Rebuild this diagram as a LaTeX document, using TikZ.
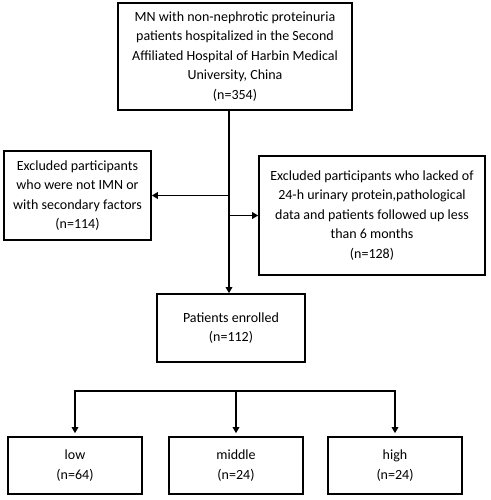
\documentclass[tikz,border=0pt]{standalone}
\usepackage{fontspec}
\setmainfont{Carlito}
\usetikzlibrary{arrows.meta}
\begin{document}
\begin{tikzpicture}[x=1pt,y=-1pt,
  box/.style={draw,line width=1.6pt,align=center,inner sep=0pt,font=\fontsize{14}{19.5}\selectfont},
  conn/.style={line width=1.6pt},
  arr/.style={conn,-{Triangle[length=6pt,width=6.5pt]}}]
\useasboundingbox (0,0) rectangle (490,500);
\node[box,minimum width=234pt,minimum height=107pt] (top) at (235,56.5)
  {MN with non-nephrotic proteinuria\\patients hospitalized in the Second\\Affiliated Hospital of Harbin Medical\\University, China\\(n=354)};
\node[box,minimum width=147pt,minimum height=89pt] (left) at (77.5,195.5)
  {Excluded participants\\who were not IMN or\\with secondary factors\\(n=114)};
\node[box,minimum width=226pt,minimum height=119pt] (right) at (372,215.5)
  {Excluded participants who lacked of\\24-h urinary protein,pathological\\data and patients followed up less\\than 6 months\\(n=128)};
\node[box,minimum width=148pt,minimum height=68pt] (mid) at (231,328)
  {Patients enrolled\\(n=112)};
\node[box,minimum width=134pt,minimum height=57pt] (low) at (75,465.5) {low\\(n=64)};
\node[box,minimum width=134pt,minimum height=57pt] (middle) at (236,465.5) {middle\\(n=24)};
\node[box,minimum width=134pt,minimum height=57pt] (high) at (395,465.5) {high\\(n=24)};
\coordinate (trunk) at (229,0);
\coordinate (bar) at (0,391);
\draw[arr] (top.south -| trunk) -- (mid.north -| trunk);
\draw[arr] (left.east -| trunk) -- (left.east);
\draw[arr] (right.west -| trunk) -- (right.west);
\draw[conn] ([xshift=-0.8pt]low.north |- bar) -- ([xshift=0.8pt]high.north |- bar);
\draw[arr,shorten >=3pt] (low.north |- bar) -- (low.north);
\draw[arr,shorten >=3pt] (middle.north |- bar) -- (middle.north);
\draw[arr,shorten >=3pt] (high.north |- bar) -- (high.north);
\end{tikzpicture}
\end{document}
